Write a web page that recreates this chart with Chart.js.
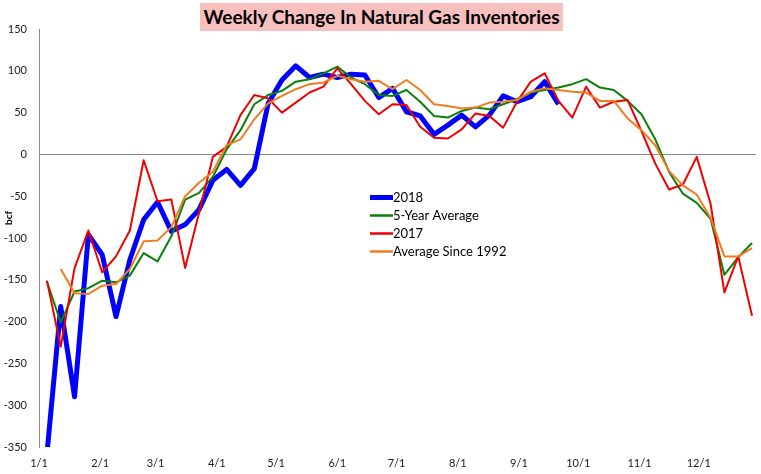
<!DOCTYPE html>
<html>
<head>
<meta charset="utf-8">
<script src="https://cdn.jsdelivr.net/npm/chart.js@4/dist/chart.umd.min.js"></script>
<style>
  html, body { margin: 0; padding: 0; background: #ffffff; }
  #wrap { position: relative; width: 761px; height: 474px; }
  #c { position: absolute; left: 0; top: 0; }
  #title {
    position: absolute; left: 200px; top: 3px; width: 363px; height: 28px;
    background: #F8BFBF; color: #000;
    font: bold 19px Lato, "Open Sans", sans-serif;
    text-align: center; line-height: 28px; white-space: nowrap;
  }
</style>
</head>
<body>
<div id="wrap">
  <canvas id="c" width="761" height="474"></canvas>
  <div id="title">Weekly Change In Natural Gas Inventories</div>
</div>
<script>
// Week-ending dates (2018 calendar used for the x position of every series)
const weekDates = [
  "01-05","01-12","01-19","01-26","02-02","02-09","02-16","02-23",
  "03-02","03-09","03-16","03-23","03-30","04-06","04-13","04-20","04-27",
  "05-04","05-11","05-18","05-25","06-01","06-08","06-15","06-22","06-29",
  "07-06","07-13","07-20","07-27","08-03","08-10","08-17","08-24","08-31",
  "09-07","09-14","09-21","09-28","10-05","10-12","10-19","10-26",
  "11-02","11-09","11-16","11-23","11-30","12-07","12-14","12-21","12-28"
];

// Month tick labels and the month-start dates they sit on
const monthLabels = ["1/1","2/1","3/1","4/1","5/1","6/1","7/1","8/1","9/1","10/1","11/1","12/1"];
const monthStarts = ["01-01","02-01","03-01","04-01","05-01","06-01","07-01","08-01","09-01","10-01","11-01","12-01"];

// Series values (bcf)
const series2018 = [-359,-182,-290,-96,-120,-194,-126,-78,-57,-92,-84,-66,-31,-18,-37,-17,61,89,106,92,96,92,96,95,68,79,51,46,24,35,47,33,47,70,63,69,87,60];
const fiveYearAvg = [-152,-201,-164,-160,-151,-153,-145,-118,-128,-98,-54,-46,-27,6,29,60,71,76,87,90,97,105,92,84,71,70,77,63,46,44,52,56,54,60,66,74,77,80,84,90,80,77,64,48,18,-21,-47,-58,-77,-144,-123,-106];
const series2017 = [-151,-230,-136,-91,-141,-122,-91,-7,-56,-54,-136,-70,-3,9,47,71,67,50,62,74,81,103,84,64,48,60,59,33,20,19,30,49,46,32,63,87,97,64,44,81,56,63,65,28,-11,-42,-36,-3,-59,-165,-122,-193];
const avgSince1992 = [null,-137,-166,-167,-157,-155,-137,-104,-103,-87,-50,-34,-21,11,18,42,61,70,78,84,86,94,90,87,88,78,89,77,60,58,55,56,62,63,65,75,79,77,75,74,64,64,43,29,11,-20,-37,-48,-76,-122,-122,-112];

const seriesNames = ["2018","5-Year Average","2017","Average Since 1992"];

function dayOfYear(md) {
  const [m, d] = md.split("-").map(Number);
  return (Date.UTC(2018, m - 1, d) - Date.UTC(2018, 0, 1)) / 864e5;
}
const weekX = weekDates.map(dayOfYear);
const monthX = monthStarts.map(dayOfYear);

function toPoints(vals) {
  return vals.map((v, i) => ({ x: weekX[i], y: v }));
}

const styles = [
  { color: "#0000FF", width: 5 },
  { color: "#0A800A", width: 2 },
  { color: "#F00000", width: 2 },
  { color: "#F27B20", width: 2 }
];
const allSeries = [series2018, fiveYearAvg, series2017, avgSince1992];

const datasets = allSeries.map((vals, i) => ({
  label: seriesNames[i],
  data: toPoints(vals),
  borderColor: styles[i].color,
  backgroundColor: styles[i].color,
  borderWidth: styles[i].width,
  pointRadius: 0,
  tension: 0,
  fill: false,
  spanGaps: false,
  order: 4 - i,
  borderJoinStyle: "round"
}));

const FONT = "Lato, 'Open Sans', sans-serif";

const legendPlugin = {
  id: "customLegend",
  afterDraw(chart) {
    const ctx = chart.ctx;
    const rows = [197.5, 215.5, 233.5, 251.5];
    ctx.save();
    ctx.font = "13px " + FONT;
    ctx.textBaseline = "middle";
    ctx.textAlign = "left";
    seriesNames.forEach((name, i) => {
      const y = rows[i];
      ctx.strokeStyle = styles[i].color;
      ctx.lineWidth = i === 0 ? 5 : 2.5;
      ctx.lineCap = "butt";
      ctx.beginPath();
      ctx.moveTo(370, y);
      ctx.lineTo(393, y);
      ctx.stroke();
      ctx.fillStyle = "#000";
      ctx.fillText(name, 393, y + 0.5);
    });
    ctx.restore();
  }
};

const yTitlePlugin = {
  id: "yTitle",
  afterDraw(chart) {
    const ctx = chart.ctx;
    ctx.save();
    ctx.translate(9, 218);
    ctx.rotate(-Math.PI / 2);
    ctx.font = "bold 10px " + FONT;
    ctx.fillStyle = "#000";
    ctx.textAlign = "center";
    ctx.textBaseline = "middle";
    ctx.fillText("bcf", 0, 0);
    ctx.restore();
  }
};

new Chart(document.getElementById("c"), {
  type: "line",
  data: { datasets },
  options: {
    responsive: false,
    animation: false,
    events: [],
    layout: { padding: { left: 0, right: 5, top: 29, bottom: 0 } },
    plugins: { legend: { display: false }, tooltip: { enabled: false }, title: { display: false } },
    scales: {
      x: {
        type: "linear",
        min: 0,
        max: 363,
        grid: { display: false, drawTicks: false },
        border: { display: false },
        afterBuildTicks: (s) => { s.ticks = monthX.map(v => ({ value: v })); },
        afterFit: (s) => { s.height = 27; },
        ticks: {
          autoSkip: false,
          maxRotation: 0,
          padding: 10,
          color: "#1a1a1a",
          font: { family: FONT, size: 11 },
          callback: (v, i) => monthLabels[i]
        }
      },
      y: {
        min: -350,
        max: 150,
        afterFit: (s) => { s.width = 39; },
        grid: {
          drawTicks: false,
          color: (c) => (c.tick && c.tick.value === 0 ? "#8a8a8a" : "rgba(0,0,0,0)"),
          lineWidth: 1
        },
        border: { display: true, color: "#8a8a8a", width: 1 },
        ticks: {
          stepSize: 50,
          padding: 12,
          color: "#1a1a1a",
          font: { family: FONT, size: 11 }
        }
      }
    }
  },
  plugins: [legendPlugin, yTitlePlugin]
});
</script>
</body>
</html>
